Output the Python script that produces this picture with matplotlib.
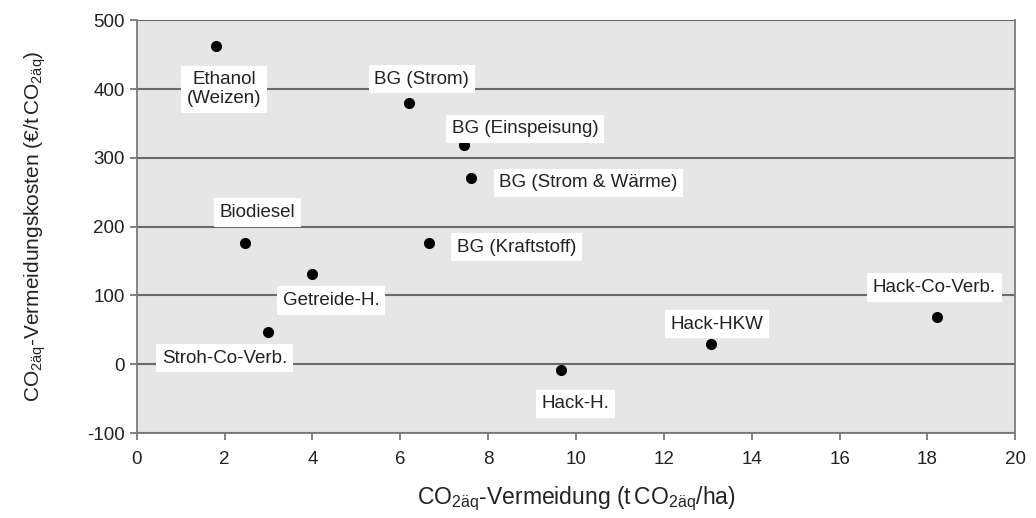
import matplotlib
matplotlib.use("Agg")
import matplotlib.pyplot as plt

# data
names = ["Ethanol\n(Weizen)", "BG (Strom)", "BG (Einspeisung)", "BG (Strom & Wärme)",
         "Biodiesel", "BG (Kraftstoff)", "Getreide-H.", "Stroh-Co-Verb.",
         "Hack-H.", "Hack-HKW", "Hack-Co-Verb."]
vermeidung = [1.8, 6.2, 7.45, 7.6, 2.47, 6.65, 3.98, 2.98, 9.65, 13.08, 18.22]
kosten = [462, 380, 318, 270, 176, 176, 131, 47, -9, 30, 69]

# label offsets in points (dx, dy) relative to each point
offsets = [(6, -31), (9, 17), (44, 12), (85, -3), (9, 22), (63, -3),
           (14, -19), (-31, -19), (11, -24), (4, 14), (-2, 21)]

plt.rcParams["font.family"] = ["Liberation Sans", "DejaVu Sans"]
plt.rcParams["mathtext.fontset"] = "custom"
plt.rcParams["mathtext.rm"] = "Liberation Sans"
plt.rcParams["axes.unicode_minus"] = False

fig = plt.figure(figsize=(10.36, 5.18), dpi=100)
ax = fig.add_axes([0.132, 0.164, 0.848, 0.797])
ax.set_facecolor("#e6e6e6")

ax.set_xlim(0, 20)
ax.set_ylim(-100, 500)
ax.set_xticks(range(0, 21, 2))
ax.set_yticks(range(-100, 501, 100))
ax.yaxis.grid(True, color="#6a6a6a", linewidth=1.5)
ax.set_axisbelow(True)

for side in ["top", "right", "left", "bottom"]:
    ax.spines[side].set_color("#7a7a7a")
    ax.spines[side].set_linewidth(1.3)
ax.spines["top"].set_visible(False)

ax.tick_params(axis="both", colors="#7a7a7a", labelcolor="#222222",
               labelsize=13.5, length=5, width=1.3)
ax.tick_params(axis="x", pad=8)

ax.plot(vermeidung, kosten, "o", color="black", markersize=7, zorder=3)

for name, x, y, off in zip(names, vermeidung, kosten, offsets):
    ax.annotate(name, (x, y), xytext=off, textcoords="offset points",
                ha="center", va="center", fontsize=13.5, color="#222222",
                linespacing=1.15,
                bbox=dict(facecolor="white", edgecolor="none", pad=4))

ax.set_xlabel(r"CO$_{\mathregular{2äq}}$-Vermeidung (t$\,$CO$_{\mathregular{2äq}}$/ha)",
              fontsize=16.5, color="#222222", labelpad=12)
ax.set_ylabel(r"CO$_{\mathregular{2äq}}$-Vermeidungskosten (€/t$\,$CO$_{\mathregular{2äq}}$)",
              fontsize=15, color="#222222", labelpad=28)

fig.savefig("out.png", dpi=100, facecolor="white")
